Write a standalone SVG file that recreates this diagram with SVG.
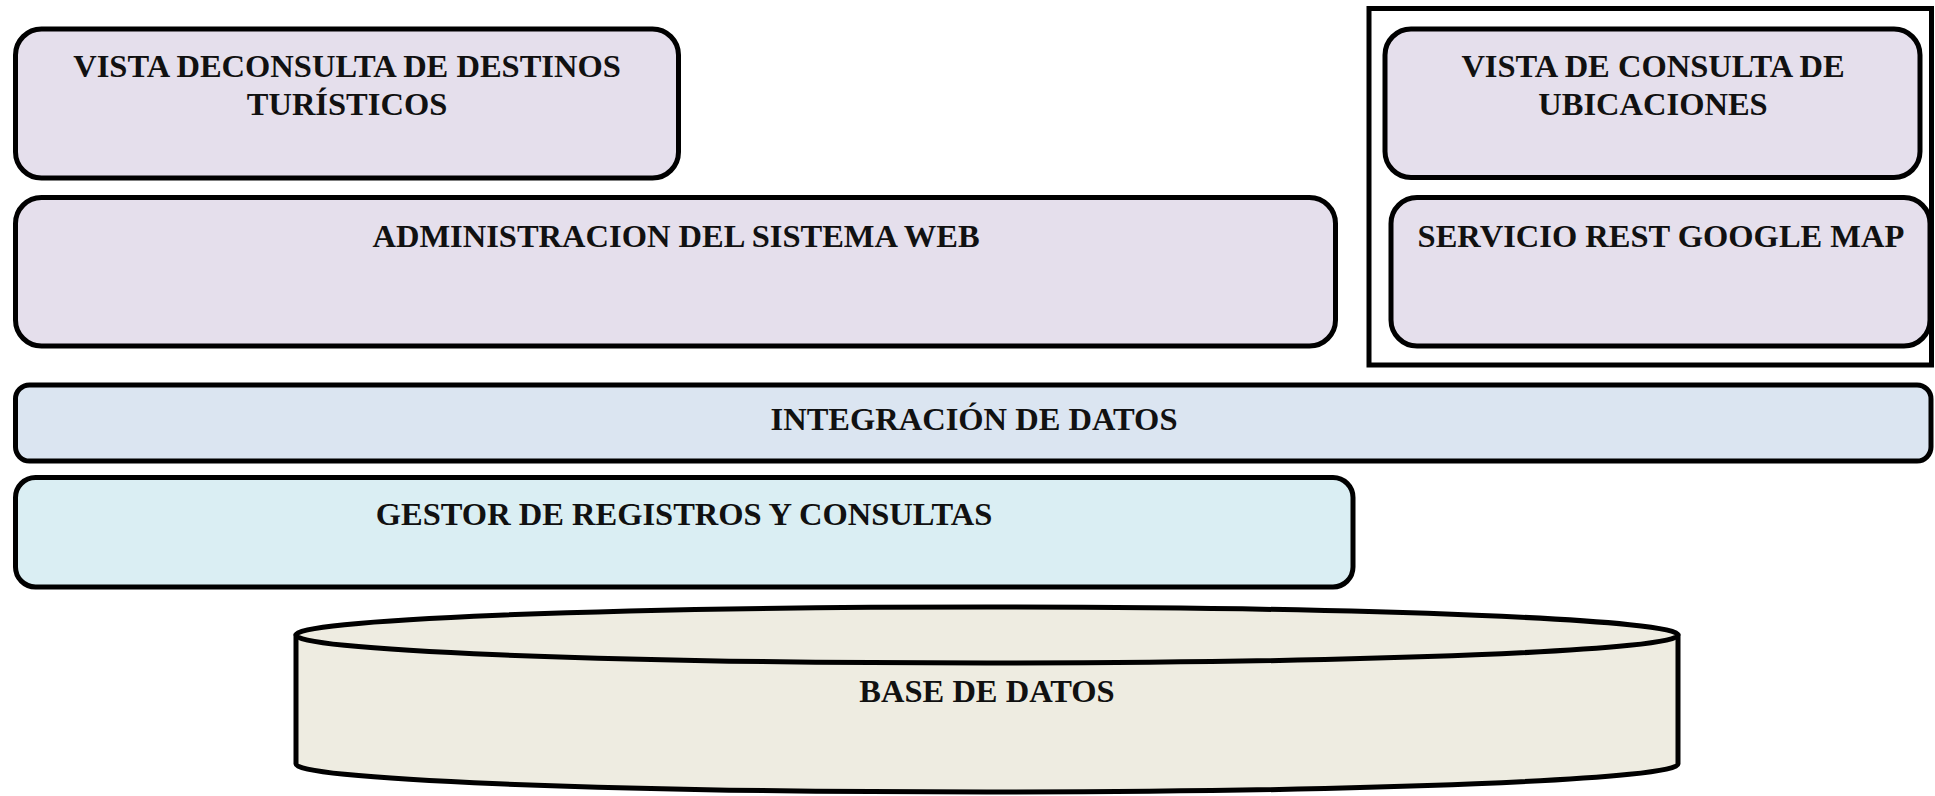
<svg xmlns="http://www.w3.org/2000/svg" width="1935" height="796" viewBox="0 0 1935 796">
<style>
.box{stroke:#000;stroke-width:5}
.lav{fill:#E5DFEC}
.blue{fill:#DBE5F1}
.cyan{fill:#DAEEF3}
.db{fill:#EEECE1}
.t{font-family:"Liberation Serif","Times New Roman",serif;font-weight:bold;font-size:32.5px;fill:#111;text-anchor:middle}
</style>
<rect width="1935" height="796" fill="#fff"/>
<g id="grupo-ubicaciones">
<rect x="1369" y="8.5" width="562.5" height="356.5" fill="none" stroke="#000" stroke-width="5"/>
</g>
<g id="vista-destinos">
<rect class="box lav" x="15.5" y="29" width="663" height="149" rx="26" ry="26"/>
<text class="t" x="347" y="77">VISTA DECONSULTA DE DESTINOS</text>
<text class="t" x="347" y="115">TURÍSTICOS</text>
</g>
<g id="vista-ubicaciones">
<rect class="box lav" x="1385" y="29" width="535" height="148.5" rx="26" ry="26"/>
<text class="t" x="1653" y="77">VISTA DE CONSULTA DE</text>
<text class="t" x="1653" y="115">UBICACIONES</text>
</g>
<g id="administracion">
<rect class="box lav" x="15.5" y="197.5" width="1320" height="148.5" rx="26" ry="26"/>
<text class="t" x="676" y="247">ADMINISTRACION DEL SISTEMA WEB</text>
</g>
<g id="servicio-rest">
<rect class="box lav" x="1391" y="197.5" width="539" height="148.5" rx="26" ry="26"/>
<text class="t" x="1661" y="247">SERVICIO REST GOOGLE MAP</text>
</g>
<g id="integracion">
<rect class="box blue" x="15.5" y="385" width="1915.5" height="76" rx="14" ry="14"/>
<text class="t" x="974" y="430">INTEGRACIÓN DE DATOS</text>
</g>
<g id="gestor">
<rect class="box cyan" x="15.5" y="477.5" width="1337.5" height="109.5" rx="20" ry="20"/>
<text class="t" x="684" y="525">GESTOR DE REGISTROS Y CONSULTAS</text>
</g>
<g id="base-datos">
<path class="box db" d="M296,636 L296,764 A691,28 0 0 0 1678,764 L1678,636 Z"/>
<ellipse class="box db" cx="987" cy="635" rx="691" ry="28"/>
<text class="t" x="987" y="702">BASE DE DATOS</text>
</g>
<g id="conectores"></g>
</svg>
